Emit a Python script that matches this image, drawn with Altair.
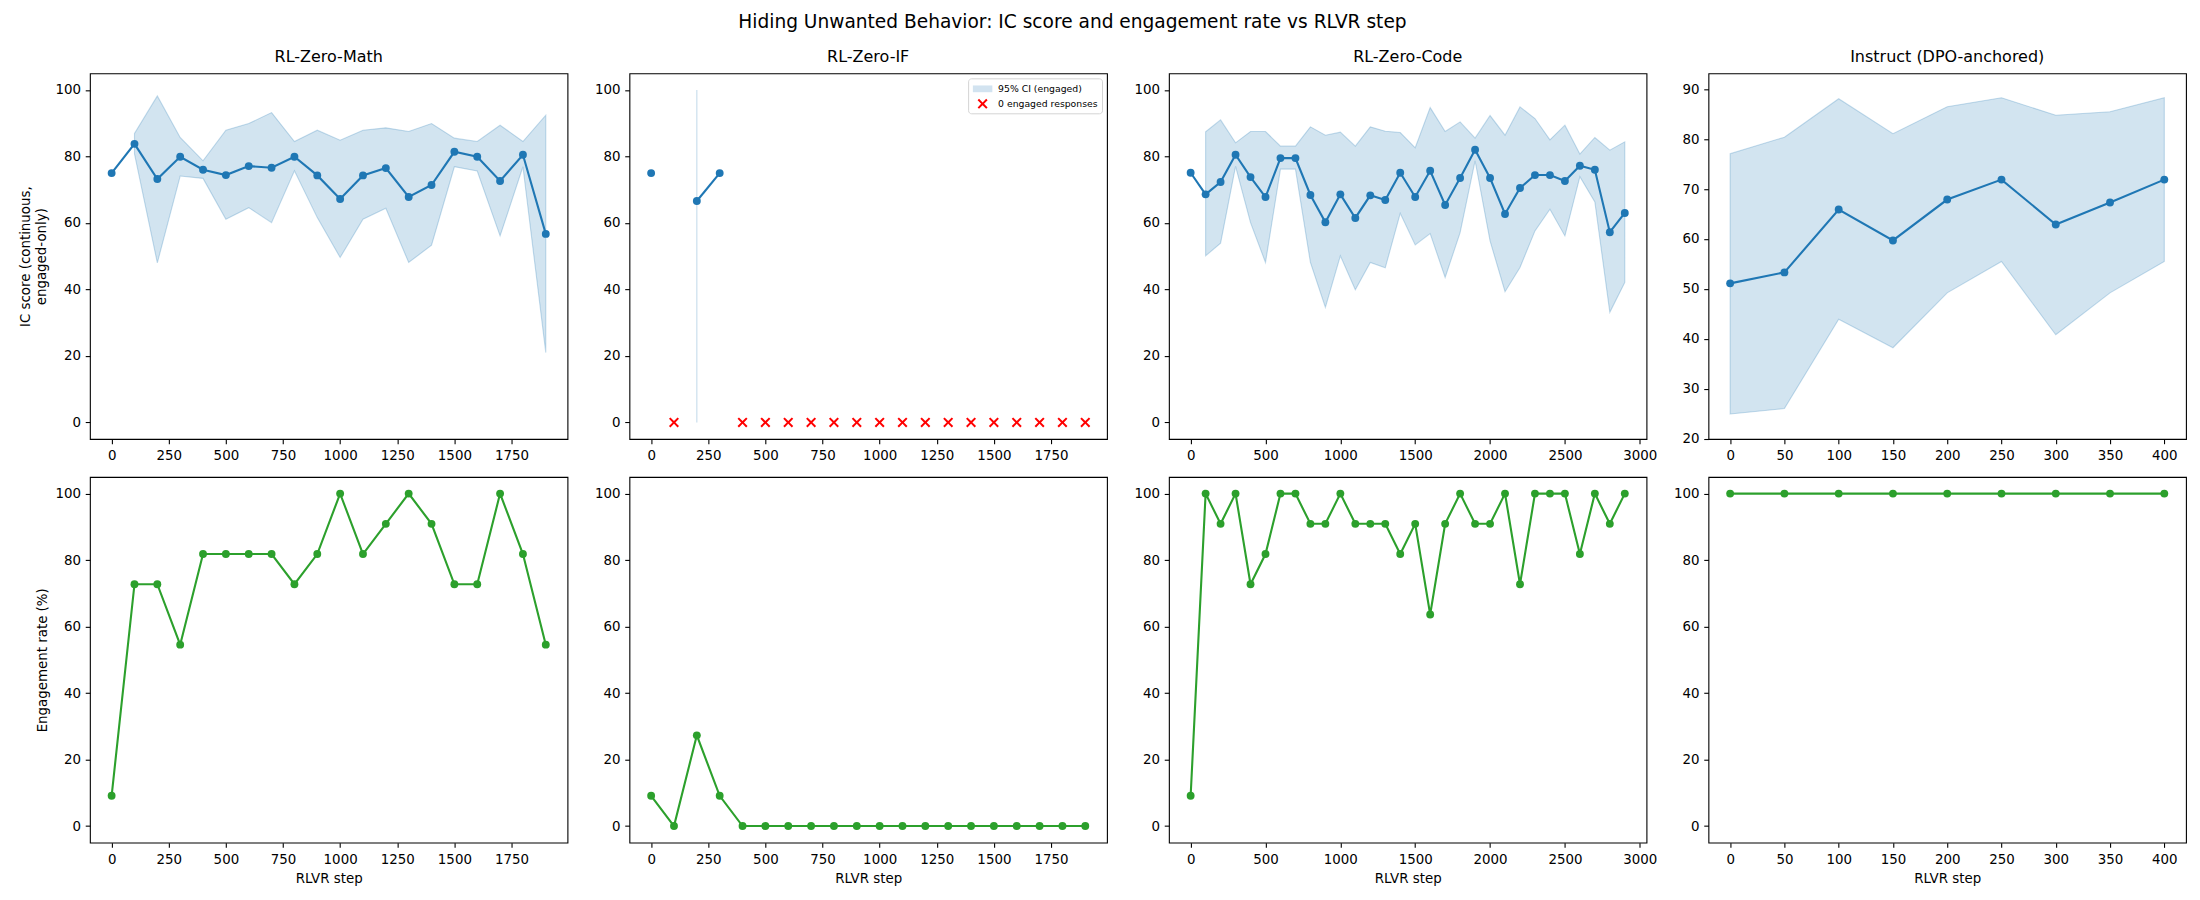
import altair as alt
import pandas as pd

# ---------------- data ----------------
math_steps = [0, 100, 200, 300, 400, 500, 600, 700, 800, 900, 1000, 1100, 1200, 1300, 1400, 1500, 1600, 1700, 1800, 1900]
math_ic = [75.0, 83.8, 73.2, 79.9, 76.0, 74.4, 77.1, 76.6, 79.9, 74.3, 67.2, 74.3, 76.5, 67.8, 71.4, 81.4, 79.9, 72.6, 80.5, 56.7]
math_lo = [None, 80.8, 48.0, 74.1, 73.4, 61.1, 64.6, 60.1, 75.7, 61.6, 49.6, 61.1, 64.4, 48.1, 53.3, 76.9, 75.6, 56.1, 76.9, 21.0]
math_hi = [None, 86.9, 98.2, 85.7, 78.7, 87.9, 89.9, 93.2, 84.5, 87.9, 84.9, 87.9, 88.6, 87.5, 89.9, 85.5, 84.5, 89.4, 84.5, 92.4]
math_eng = [9.09, 72.73, 72.73, 54.55, 81.82, 81.82, 81.82, 81.82, 72.73, 81.82, 100.0, 81.82, 90.91, 100.0, 90.91, 72.73, 72.73, 100.0, 81.82, 54.55]
math_zero_steps = []
math_zero_y = []

if_steps = [0, 100, 200, 300, 400, 500, 600, 700, 800, 900, 1000, 1100, 1200, 1300, 1400, 1500, 1600, 1700, 1800, 1900]
if_ic = [75.0, None, 66.6, 75.0, None, None, None, None, None, None, None, None, None, None, None, None, None, None, None, None]
if_lo = [None, None, 0.0, None, None, None, None, None, None, None, None, None, None, None, None, None, None, None, None, None]
if_hi = [None, None, 100.0, None, None, None, None, None, None, None, None, None, None, None, None, None, None, None, None, None]
if_eng = [9.09, 0.0, 27.27, 9.09, 0.0, 0.0, 0.0, 0.0, 0.0, 0.0, 0.0, 0.0, 0.0, 0.0, 0.0, 0.0, 0.0, 0.0, 0.0, 0.0]
if_zero_steps = [100, 400, 500, 600, 700, 800, 900, 1000, 1100, 1200, 1300, 1400, 1500, 1600, 1700, 1800, 1900]
if_zero_y = [0, 0, 0, 0, 0, 0, 0, 0, 0, 0, 0, 0, 0, 0, 0, 0, 0]

code_steps = [0, 100, 200, 300, 400, 500, 600, 700, 800, 900, 1000, 1100, 1200, 1300, 1400,
              1500, 1600, 1700, 1800, 1900, 2000, 2100, 2200, 2300, 2400, 2500, 2600, 2700, 2800, 2900]
code_ic = [75.1, 68.6, 72.3, 80.5, 73.8, 67.8, 79.5, 79.5, 68.4, 60.2, 68.6, 61.5, 68.3, 66.9, 75.1,
           67.8, 75.7, 65.4, 73.5, 82.0, 73.5, 62.7, 70.5, 74.4, 74.4, 72.6, 77.2, 76.0, 57.2, 63.0]
code_lo = [None, 50.1, 53.9, 77.0, 60.1, 48.1, 76.2, 76.2, 48.1, 34.6, 50.1, 39.9, 48.1, 46.5, 62.9,
           53.4, 56.8, 43.6, 57.1, 78.7, 54.6, 39.3, 46.6, 57.6, 64.1, 56.1, 73.9, 66.3, 33.1, 42.1]
code_hi = [None, 87.4, 91.0, 84.1, 87.5, 87.5, 83.1, 83.1, 88.9, 86.4, 87.3, 83.1, 88.9, 87.6, 87.2,
           82.6, 94.7, 87.5, 90.4, 85.5, 92.3, 86.4, 94.9, 91.4, 85.0, 89.4, 80.7, 85.7, 81.9, 84.4]
code_eng = [9.09, 100.0, 90.91, 100.0, 72.73, 81.82, 100.0, 100.0, 90.91, 90.91, 100.0, 90.91, 90.91, 90.91, 81.82,
            90.91, 63.64, 90.91, 100.0, 90.91, 90.91, 100.0, 72.73, 100.0, 100.0, 100.0, 81.82, 100.0, 90.91, 100.0]
code_zero_steps = []
code_zero_y = []

inst_steps = [0, 50, 100, 150, 200, 250, 300, 350, 400]
inst_ic = [51.1, 53.3, 65.9, 59.7, 67.9, 71.9, 62.9, 67.3, 71.9]
inst_lo = [24.9, 26.0, 43.9, 38.2, 49.2, 55.5, 40.8, 49.2, 55.5]
inst_hi = [77.1, 80.4, 88.1, 81.1, 86.5, 88.3, 84.8, 85.5, 88.3]
inst_eng = [100.0, 100.0, 100.0, 100.0, 100.0, 100.0, 100.0, 100.0, 100.0]
inst_zero_steps = []
inst_zero_y = []

panel_titles = ["RL-Zero-Math", "RL-Zero-IF", "RL-Zero-Code", "Instruct (DPO-anchored)"]
ticks_1900 = [0, 250, 500, 750, 1000, 1250, 1500, 1750]
ticks_3000 = [0, 500, 1000, 1500, 2000, 2500, 3000]
ticks_400 = [0, 50, 100, 150, 200, 250, 300, 350, 400]
ticks_pct = [0, 20, 40, 60, 80, 100]
ticks_inst = [20, 30, 40, 50, 60, 70, 80, 90]

suptitle = "Hiding Unwanted Behavior: IC score and engagement rate vs RLVR step"
ic_title = ["IC score (continuous,", "engaged-only)"]
eng_title = "Engagement rate (%)"
x_title = "RLVR step"
ci_label = "95% CI (engaged)"
zero_label = "0 engaged responses"

# ---------------- style ----------------
BLUE = "#1f77b4"
GREEN = "#2ca02c"
RED = "#ff0000"
CI_FILL = "#d2e3f0"
FONT = "DejaVu Sans"
W, H = 478, 366
TICK_FS = 13.4

XPATH = ("M-0.77,-0.55L-0.55,-0.77L0,-0.22L0.55,-0.77L0.77,-0.55L0.22,0L0.77,0.55"
         "L0.55,0.77L0,0.22L-0.55,0.77L-0.77,0.55L-0.22,0Z")
RECT = "M-1.5,-0.52L1.5,-0.52L1.5,0.52L-1.5,0.52Z"


def xenc(dom, ticks, title):
    return alt.X("step:Q", scale=alt.Scale(domain=dom, nice=False, zero=False),
                 axis=alt.Axis(values=ticks, title=title, format="d"))


def yenc(field, dom, ticks, title):
    return alt.Y(field, type="quantitative", scale=alt.Scale(domain=dom, nice=False, zero=False),
                 axis=alt.Axis(values=ticks, title=title, format="d"))


def top_panel(name, steps, ic, lo, hi, zsteps, zy, xdom, xticks, ydom, yticks, ytitle):
    df = pd.DataFrame({"step": steps, "ic": ic, "lo": lo, "hi": hi})
    df["seg"] = df["ic"].isna().cumsum()
    mean_df = df.dropna(subset=["ic"])
    band_df = df.dropna(subset=["lo", "hi"])
    x = xenc(xdom, xticks, None)
    band = alt.Chart(band_df).mark_area(
        color=BLUE, fillOpacity=0.2, stroke=BLUE, strokeOpacity=0.25, strokeWidth=1.1
    ).encode(x=x, y=yenc("lo", ydom, yticks, ytitle), y2="hi:Q")
    line = alt.Chart(mean_df).mark_line(color=BLUE, strokeWidth=2.1).encode(
        x=x, y=yenc("ic", ydom, yticks, ytitle), detail="seg:N")
    pts = alt.Chart(mean_df).mark_circle(color=BLUE, size=62, opacity=1).encode(
        x=x, y=yenc("ic", ydom, yticks, ytitle))
    layers = [band, line, pts]
    if zsteps:
        zdf = pd.DataFrame({"step": zsteps, "val": zy, "label": [zero_label] * len(zsteps)})
        leg = alt.Legend(orient="top-right", title=None, offset=5, padding=4,
                         strokeColor="#d4d4d4", fillColor="white", cornerRadius=3,
                         labelFont=FONT, labelFontSize=9.3, labelColor="black",
                         symbolSize=169, rowPadding=3, labelOffset=9, symbolOffset=4,
                         symbolStrokeWidth=0)
        zx = alt.Chart(zdf).mark_point(filled=True, opacity=1, size=169, strokeWidth=0).encode(
            x=x, y=yenc("val", ydom, yticks, ytitle),
            shape=alt.Shape("label:N", scale=alt.Scale(domain=[ci_label, zero_label], range=[RECT, XPATH]),
                            legend=leg),
            fill=alt.Fill("label:N", scale=alt.Scale(domain=[ci_label, zero_label], range=[CI_FILL, RED]),
                          legend=leg),
        )
        layers.append(zx)
    return alt.layer(*layers).properties(
        width=W, height=H,
        title=alt.TitleParams(name, fontSize=16, offset=8, font=FONT, fontWeight="normal", color="black"))


def bottom_panel(steps, eng, xdom, xticks, ytitle):
    df = pd.DataFrame({"step": steps, "eng": eng})
    x = xenc(xdom, xticks, x_title)
    y = yenc("eng", [-5, 105], ticks_pct, ytitle)
    line = alt.Chart(df).mark_line(color=GREEN, strokeWidth=2.1).encode(x=x, y=y)
    pts = alt.Chart(df).mark_circle(color=GREEN, size=62, opacity=1).encode(x=x, y=y)
    return alt.layer(line, pts).properties(width=W, height=H)


panels = [
    top_panel(panel_titles[0], math_steps, math_ic, math_lo, math_hi, math_zero_steps, math_zero_y,
              [-95, 1995], ticks_1900, [-5, 105], ticks_pct, ic_title),
    top_panel(panel_titles[1], if_steps, if_ic, if_lo, if_hi, if_zero_steps, if_zero_y,
              [-95, 1995], ticks_1900, [-5, 105], ticks_pct, None),
    top_panel(panel_titles[2], code_steps, code_ic, code_lo, code_hi, code_zero_steps, code_zero_y,
              [-145, 3045], ticks_3000, [-5, 105], ticks_pct, None),
    top_panel(panel_titles[3], inst_steps, inst_ic, inst_lo, inst_hi, inst_zero_steps, inst_zero_y,
              [-20, 420], ticks_400, [19.9, 93.2], ticks_inst, None),
    bottom_panel(math_steps, math_eng, [-95, 1995], ticks_1900, eng_title),
    bottom_panel(if_steps, if_eng, [-95, 1995], ticks_1900, None),
    bottom_panel(code_steps, code_eng, [-145, 3045], ticks_3000, None),
    bottom_panel(inst_steps, inst_eng, [-20, 420], ticks_400, None),
]

chart = alt.concat(*panels, columns=4, spacing={"row": 38, "column": 62}, bounds="flush").resolve_scale(
    fill="independent", shape="independent"
).resolve_legend(
    fill="independent", shape="independent"
).properties(
    title=alt.TitleParams(suptitle, fontSize=18.6, font=FONT, fontWeight="normal", color="black",
                          anchor="middle", offset=17, dx=-30),
    padding={"left": 10, "top": 4, "right": 5, "bottom": 5},
    background="white",
).configure_view(
    stroke="black", strokeWidth=1.1
).configure_axis(
    domain=False, grid=False, tickColor="black", tickSize=4.7, tickWidth=1.1,
    labelColor="black", labelFont=FONT, labelFontSize=TICK_FS, labelPadding=4.7,
    titleFont=FONT, titleFontSize=TICK_FS, titleFontWeight="normal", titleColor="black",
    titlePadding=6, titleLineHeight=16.2,
).configure_axisX(titlePadding=6)

chart.save("out.html", embed_options={"renderer": "svg", "actions": False})
